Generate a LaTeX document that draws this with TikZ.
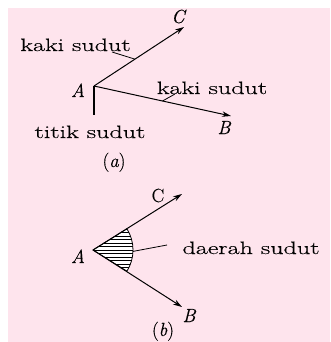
\documentclass[tikz,border=0pt]{standalone}
\usepackage{fontspec}
\setmainfont{Latin Modern Roman}[FakeStretch=1.45,FakeBold=0.4]
\newfontfamily\ptfont{Latin Modern Roman}[FakeBold=0.4]
\newcommand{\pt}[1]{{\ptfont\fontsize{19}{21}\selectfont\itshape #1}}
\newcommand{\ptup}[1]{{\ptfont\fontsize{19}{21}\selectfont #1}}
\usetikzlibrary{arrows.meta}
\definecolor{bgpink}{RGB}{254,228,237}

\begin{document}
\begin{tikzpicture}[
  x=1pt,y=-1pt,
  font=\fontsize{18}{20}\selectfont,
  ray/.style={-{Stealth[length=9pt,width=5.5pt]},line width=1pt},
  pointer/.style={line width=0.8pt},
  lbl/.style={inner sep=0pt,anchor=base},
  hatch/.style={line width=0.9pt}
]
  \useasboundingbox (0,0) rectangle (330,342);
  \fill[bgpink] (8,8) rectangle (330,342);

  % (a) sudut, kaki dan titik sudut
  \coordinate (Aa) at (94,86);
  \coordinate (Ca) at (184,27);
  \coordinate (Ba) at (231,116);
  \coordinate (stem) at (94,115);

  \node[lbl] (kaki1) at (75.5,51) {kaki sudut};
  \node[lbl] (kaki2) at (212,94) {kaki sudut};
  \node[lbl] (titik) at (90,138) {titik sudut};
  \node[lbl] (labA) at (78,97) {\pt{A}};
  \node[lbl] (labB) at (224,134) {\pt{B}};
  \node[lbl] (labC) at (178,23) {\pt{C}};
  \node[lbl] (capa) at (114,167) {\ptup{(}\pt{a}\ptup{)}};

  \draw[ray] (Aa) -- (Ca);
  \draw[ray] (Aa) -- (Ba);
  \draw[line width=1.2pt] (Aa) -- (stem);
  \path (Aa) -- (Ca) coordinate[pos=0.455] (onAC);
  \path (Aa) -- (Ba) coordinate[pos=0.5] (onAB);
  \draw[pointer] (112,52) coordinate (k1foot) -- (onAC);
  \draw[pointer] (175,94) coordinate (k2foot) -- (onAB);

  % (b) daerah sudut
  \coordinate (Ab) at (93,250);
  \coordinate (Cb) at (182,194);
  \coordinate (Bb) at (182,307);

  \node[lbl] (labCb) at (158,202) {\ptup{C}};
  \node[lbl] (labAb) at (78,263) {\pt{A}};
  \node[lbl] (labBb) at (189,322) {\pt{B}};
  \node[lbl] (daerah) at (251,254) {daerah sudut};
  \node[lbl] (capb) at (163,336) {\ptup{(}\pt{b}\ptup{)}};

  \begin{scope}
    \clip (Ab) -- ++(-32:40) arc[start angle=-32,end angle=32,radius=40] -- cycle;
    \fill[white] (50,200) rectangle (150,300);
    \foreach \hy in {229,232.5,...,272}
      \draw[hatch] (80,\hy) -- (140,\hy);
  \end{scope}
  \draw[line width=0.8pt] (Ab) -- ++(-32:40) arc[start angle=-32,end angle=32,radius=40] -- cycle;

  \draw[ray] (Ab) -- (Cb);
  \draw[ray] (Ab) -- (Bb);
  \path (Ab) ++(2:40) coordinate (onarc);
  \draw[pointer] (onarc) -- (167,245) coordinate (dfoot);
\end{tikzpicture}
\end{document}
